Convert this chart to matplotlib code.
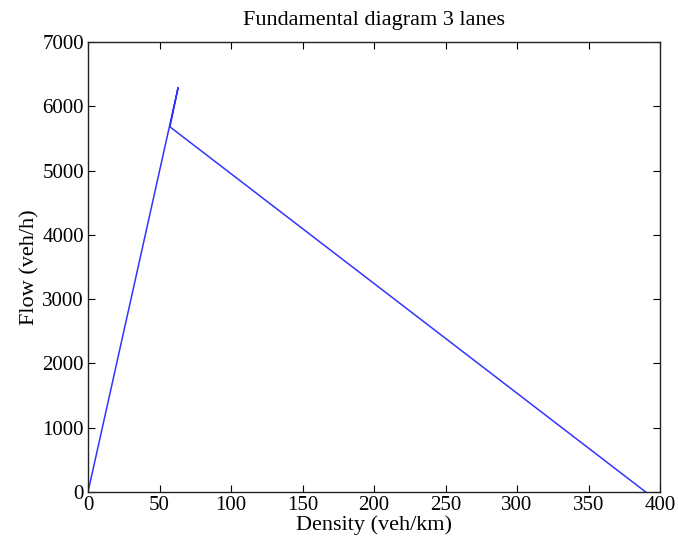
import matplotlib
matplotlib.use("Agg")
import matplotlib.pyplot as plt

density = [0, 63, 57.3, 390]
flow = [0, 6290, 5680, 0]

plt.rcParams['font.family'] = ['Liberation Serif', 'DejaVu Serif']
fig = plt.figure(figsize=(6.78, 5.48), dpi=100)
ax = fig.add_axes([88/678, 1-492/548, (660-88)/678, (492-42)/548])
ax.plot(density, flow, color='#3333ff', lw=1.1)
ax.set_xlim(0, 400)
ax.set_ylim(0, 7000)
ax.set_xticks(range(0, 401, 50))
ax.set_yticks(range(0, 7001, 1000))
ax.tick_params(direction='in', top=True, right=True, labelsize=15, length=5, pad=3)
for s in ax.spines.values():
    s.set_linewidth(1.0)
    s.set_color('#222222')
ax.set_title('Fundamental diagram 3 lanes', fontsize=16, pad=12)
ax.set_xlabel('Density (veh/km)', fontsize=16, labelpad=0)
ax.set_ylabel('Flow (veh/h)', fontsize=16, labelpad=2)
fig.savefig('out.png', dpi=100)
